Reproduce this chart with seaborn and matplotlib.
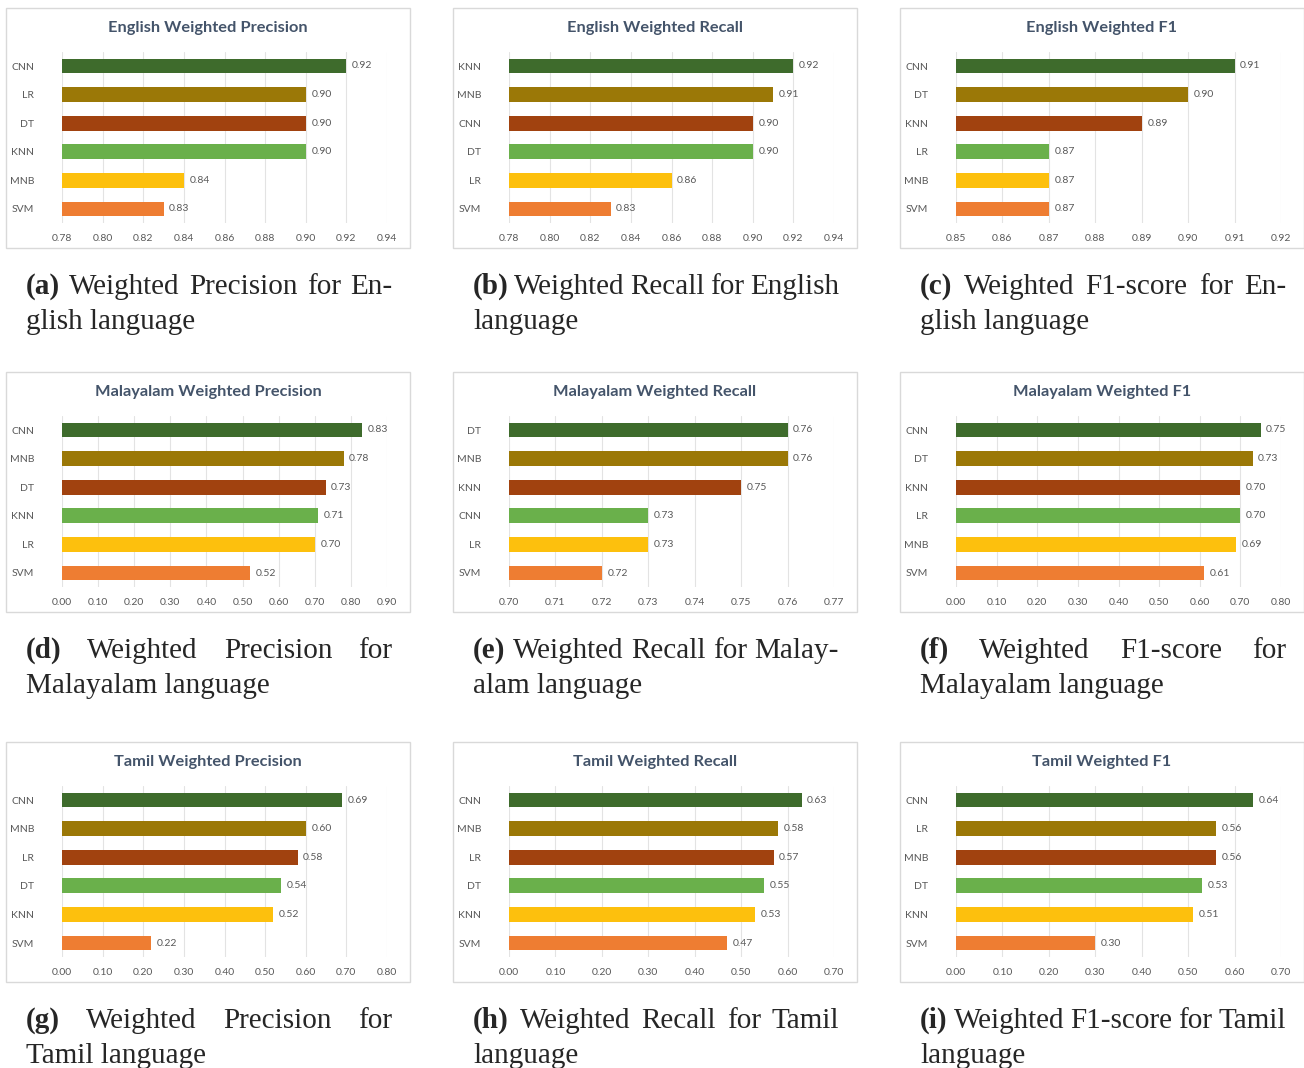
import matplotlib
matplotlib.use("Agg")
import matplotlib.pyplot as plt
import matplotlib.ticker as mticker
import seaborn as sns
from matplotlib.patches import Rectangle

sns.set_style("white")
plt.rcParams['font.family'] = ['Lato', 'DejaVu Sans']

W, H = 1304, 1068

# colours go by rank (top bar to bottom bar), as in the Excel charts
bar_colors = ["#3e6b2c", "#9b7807", "#a1420f", "#6ab04b", "#fdc00d", "#ee7d32"]

# ---------------- data ----------------
eng_prec_models = ["CNN", "LR", "DT", "KNN", "MNB", "SVM"]
eng_prec_values = [0.92, 0.90, 0.90, 0.90, 0.84, 0.83]

eng_rec_models = ["KNN", "MNB", "CNN", "DT", "LR", "SVM"]
eng_rec_values = [0.92, 0.91, 0.90, 0.90, 0.86, 0.83]

eng_f1_models = ["CNN", "DT", "KNN", "LR", "MNB", "SVM"]
eng_f1_values = [0.91, 0.90, 0.89, 0.87, 0.87, 0.87]

mal_prec_models = ["CNN", "MNB", "DT", "KNN", "LR", "SVM"]
mal_prec_values = [0.83, 0.78, 0.73, 0.71, 0.70, 0.52]

mal_rec_models = ["DT", "MNB", "KNN", "CNN", "LR", "SVM"]
mal_rec_values = [0.76, 0.76, 0.75, 0.73, 0.73, 0.72]

mal_f1_models = ["CNN", "DT", "KNN", "LR", "MNB", "SVM"]
mal_f1_values = [0.75, 0.73, 0.70, 0.70, 0.69, 0.61]

tam_prec_models = ["CNN", "MNB", "LR", "DT", "KNN", "SVM"]
tam_prec_values = [0.69, 0.60, 0.58, 0.54, 0.52, 0.22]

tam_rec_models = ["CNN", "MNB", "LR", "DT", "KNN", "SVM"]
tam_rec_values = [0.63, 0.58, 0.57, 0.55, 0.53, 0.47]

tam_f1_models = ["CNN", "LR", "MNB", "DT", "KNN", "SVM"]
tam_f1_values = [0.64, 0.56, 0.56, 0.53, 0.51, 0.30]

titles = ["English Weighted Precision", "English Weighted Recall", "English Weighted F1",
          "Malayalam Weighted Precision", "Malayalam Weighted Recall", "Malayalam Weighted F1",
          "Tamil Weighted Precision", "Tamil Weighted Recall", "Tamil Weighted F1"]

# axis range and tick step of each chart
x_ranges = [(0.78, 0.94, 0.02), (0.78, 0.94, 0.02), (0.85, 0.92, 0.01),
            (0.0, 0.90, 0.10), (0.70, 0.77, 0.01), (0.0, 0.80, 0.10),
            (0.0, 0.80, 0.10), (0.0, 0.70, 0.10), (0.0, 0.70, 0.10)]

captions = [
    (["(a)", "Weighted", "Precision", "for", "En-"], "glish language"),
    (["(b)", "Weighted", "Recall", "for", "English"], "language"),
    (["(c)", "Weighted", "F1-score", "for", "En-"], "glish language"),
    (["(d)", "Weighted", "Precision", "for"], "Malayalam language"),
    (["(e)", "Weighted", "Recall", "for", "Malay-"], "alam language"),
    (["(f)", "Weighted", "F1-score", "for"], "Malayalam language"),
    (["(g)", "Weighted", "Precision", "for"], "Tamil language"),
    (["(h)", "Weighted", "Recall", "for", "Tamil"], "language"),
    (["(i)", "Weighted", "F1-score", "for", "Tamil"], "language"),
]

models_list = [eng_prec_models, eng_rec_models, eng_f1_models,
               mal_prec_models, mal_rec_models, mal_f1_models,
               tam_prec_models, tam_rec_models, tam_f1_models]
values_list = [eng_prec_values, eng_rec_values, eng_f1_values,
               mal_prec_values, mal_rec_values, mal_f1_values,
               tam_prec_values, tam_rec_values, tam_f1_values]

# ---------------- layout (pixels) ----------------
col_x = [6, 453, 900]
row_y = [8, 372, 742]
box_w, box_h = 404, 240
ax_dx, ax_dy, ax_w, ax_h = 56, 43.7, 325, 171.6
cap_dx, cap_w, cap_dy, cap_gap = 20, 366, 286, 35

fig = plt.figure(figsize=(W / 100, H / 100), dpi=100)
fig.patch.set_facecolor("white")
renderer = fig.canvas.get_renderer()


def justify(words, x0, y, width):
    texts = []
    for i, w in enumerate(words):
        t = fig.text(0, 1 - y / H, w, fontsize=21, family="Liberation Serif",
                     fontweight="bold" if i == 0 else "normal", ha="left", va="baseline")
        texts.append(t)
    widths = [t.get_window_extent(renderer).width for t in texts]
    gap = (width - sum(widths)) / (len(words) - 1)
    x = x0
    for t, w in zip(texts, widths):
        t.set_x(x / W)
        x += w + gap


for k in range(9):
    r, c = divmod(k, 3)
    bx, by = col_x[c], row_y[r]

    # panel frame
    fig.patches.append(Rectangle((bx / W, 1 - (by + box_h) / H), box_w / W, box_h / H,
                                 transform=fig.transFigure, fill=False,
                                 edgecolor="#d9d9d9", lw=1))
    fig.text((bx + box_w / 2) / W, 1 - (by + 20) / H, titles[k], ha="center", va="center",
             fontsize=11.8, fontweight="bold", color="#44546a")

    ax = fig.add_axes([(bx + ax_dx) / W, 1 - (by + ax_dy + ax_h) / H, ax_w / W, ax_h / H])
    sns.barplot(x=values_list[k], y=models_list[k], hue=models_list[k],
                palette=bar_colors, saturation=1, orient="h", width=0.52, legend=False,
                ax=ax, edgecolor="none")
    for cont in ax.containers:
        ax.bar_label(cont, fmt="%.2f", padding=4, fontsize=7.5, color="#595959")

    xmin, xmax, step = x_ranges[k]
    ax.set_xlim(xmin, xmax)
    ax.xaxis.set_major_locator(mticker.MultipleLocator(step))
    ax.xaxis.set_major_formatter(mticker.FormatStrFormatter("%.2f"))
    ax.grid(axis="x", color="#e3e3e3", lw=0.8)
    ax.set_axisbelow(True)
    for s in ax.spines.values():
        s.set_visible(False)
    ax.tick_params(axis="x", length=0, pad=8, labelsize=7.5, labelcolor="#595959")
    ax.tick_params(axis="y", length=0, pad=20, labelsize=7.5, labelcolor="#595959")
    ax.set_xlabel("")
    ax.set_ylabel("")

    # caption under the panel
    first, second = captions[k]
    justify(first, bx + cap_dx, by + cap_dy, cap_w)
    fig.text((bx + cap_dx) / W, 1 - (by + cap_dy + cap_gap) / H, second, fontsize=21,
             family="Liberation Serif", ha="left", va="baseline")

fig.savefig("out.png", dpi=100, facecolor="white")
